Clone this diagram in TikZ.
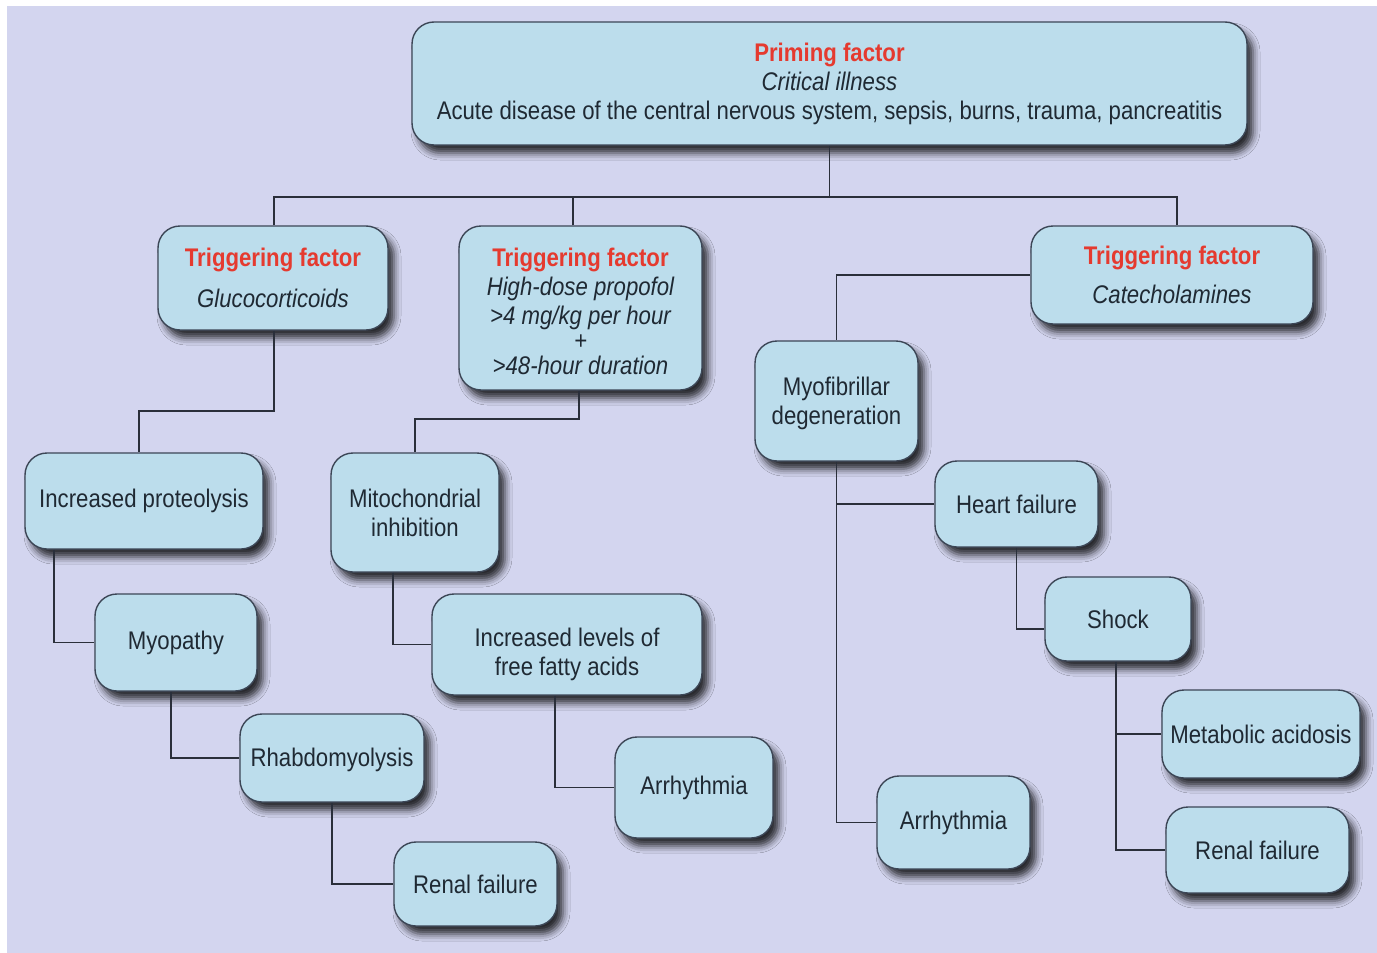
\documentclass[tikz,border=0pt]{standalone}
\usepackage{fontspec}
\setmainfont[FakeStretch=0.87]{Liberation Sans}
\usetikzlibrary{shadows.blur}
\definecolor{bgc}{HTML}{D3D5EF}
\definecolor{boxc}{HTML}{BCDDEC}
\definecolor{bordc}{HTML}{3C4656}
\definecolor{txtc}{HTML}{1F2933}
\definecolor{redc}{HTML}{E53A2F}
\definecolor{linec}{HTML}{2A2F3A}
\tikzset{
  box/.style={draw=bordc, line width=1.4pt, fill=boxc, rounded corners=22pt,
    align=center, text=txtc, inner sep=0pt,
    font=\fontsize{25.5}{29}\selectfont,
    blur shadow={shadow xshift=6pt, shadow yshift=-8pt, shadow blur radius=7pt, shadow opacity=80}},
  conn/.style={draw=linec, line width=1.3pt}
}
\newcommand\redhd[1]{\textcolor{redc}{\bfseries #1}}
\begin{document}
\begin{tikzpicture}[x=1pt,y=-1pt]
\useasboundingbox (0,0) rectangle (1377,953);
\fill[white] (0,0) rectangle (1377,953);
\fill[bgc] (7,6) rectangle (1377,953);

% nodes
\node[box, minimum width=835pt, minimum height=123pt] (pr) at (829.5,83.5)
  {\redhd{Priming factor}\\ \itshape Critical illness\\ Acute disease of the central nervous system, sepsis, burns, trauma, pancreatitis};
\node[box, minimum width=230pt, minimum height=104pt] (t1) at (273,278)
  {\redhd{Triggering factor}\\[12pt] \itshape Glucocorticoids};
\node[box, minimum width=243pt, minimum height=164pt] (t2) at (580.5,308)
  {\vphantom{X}\\[-21pt]\redhd{Triggering factor}\\ \itshape High-dose propofol\\ \itshape >4 mg/kg per hour\\[-4pt] \itshape +\\[-4pt] \itshape >48-hour duration};
\node[box, minimum width=282pt, minimum height=98pt] (t3) at (1172,275)
  {\redhd{Triggering factor}\\[10pt] \itshape Catecholamines};
\node[box, minimum width=238pt, minimum height=96pt] (pro) at (144,501) {Increased proteolysis};
\node[box, minimum width=162pt, minimum height=97pt] (mp) at (176,642.5) {Myopathy};
\node[box, minimum width=184pt, minimum height=88pt] (rh) at (332,758) {\vphantom{X}\\[-25pt]Rhabdomyolysis};
\node[box, minimum width=163pt, minimum height=84pt] (rl) at (475.5,884) {Renal failure};
\node[box, minimum width=168pt, minimum height=119pt] (mi) at (415,512.5) {Mitochondrial\\ inhibition};
\node[box, minimum width=270pt, minimum height=101pt] (ff) at (567,644.5) {\vphantom{X}\\[-9pt]Increased levels of\\ free fatty acids};
\node[box, minimum width=158pt, minimum height=101pt] (am) at (694,787.5) {Arrhythmia};
\node[box, minimum width=163pt, minimum height=120pt] (my) at (836.5,401) {\vphantom{X}\\[-23pt]Myofibrillar\\ degeneration};
\node[box, minimum width=163pt, minimum height=86pt] (hf) at (1016.5,504) {Heart failure};
\node[box, minimum width=146pt, minimum height=84pt] (sh) at (1118,619) {Shock};
\node[box, minimum width=198pt, minimum height=88pt] (ma) at (1261,734) {Metabolic acidosis};
\node[box, minimum width=153pt, minimum height=93pt] (ar) at (953.5,822.5) {Arrhythmia};
\node[box, minimum width=183pt, minimum height=86pt] (rr) at (1257.5,850) {Renal failure};

% connectors
\coordinate (bus) at (829.5,197);
\draw[conn] (pr.south) -- (bus);
\draw[conn] (t1.north -| 274,0) -- (bus -| 274,0) -- (bus -| 1177,0) -- (t3.north -| 1177,0);
\draw[conn] (t2.north -| 573,0) -- (bus -| 573,0);
\draw[conn] (t1.south -| 274,0) |- (139,411) -- (pro.north -| 139,0);
\draw[conn] (t2.south -| 579,0) |- (415,419) -- (mi.north -| 415,0);
\draw[conn] (t3.west) -| (my.north);
\draw[conn] (pro.south -| 54,0) |- (mp.west);
\draw[conn] (mp.south -| 171,0) |- (rh.west);
\draw[conn] (rh.south) |- (rl.west);
\draw[conn] (mi.south -| 393,0) |- (ff.west);
\draw[conn] (ff.south -| 555,0) |- (am.west);
\draw[conn] (my.south) |- (ar.west);
\draw[conn] (my.south |- hf.west) -- (hf.west);
\draw[conn] (hf.south) |- ([yshift=-10pt]sh.west);
\draw[conn] (sh.south -| 1116,0) |- (rr.west);
\draw[conn] (ma.west -| 1116,0) -- (ma.west);
\end{tikzpicture}
\end{document}
